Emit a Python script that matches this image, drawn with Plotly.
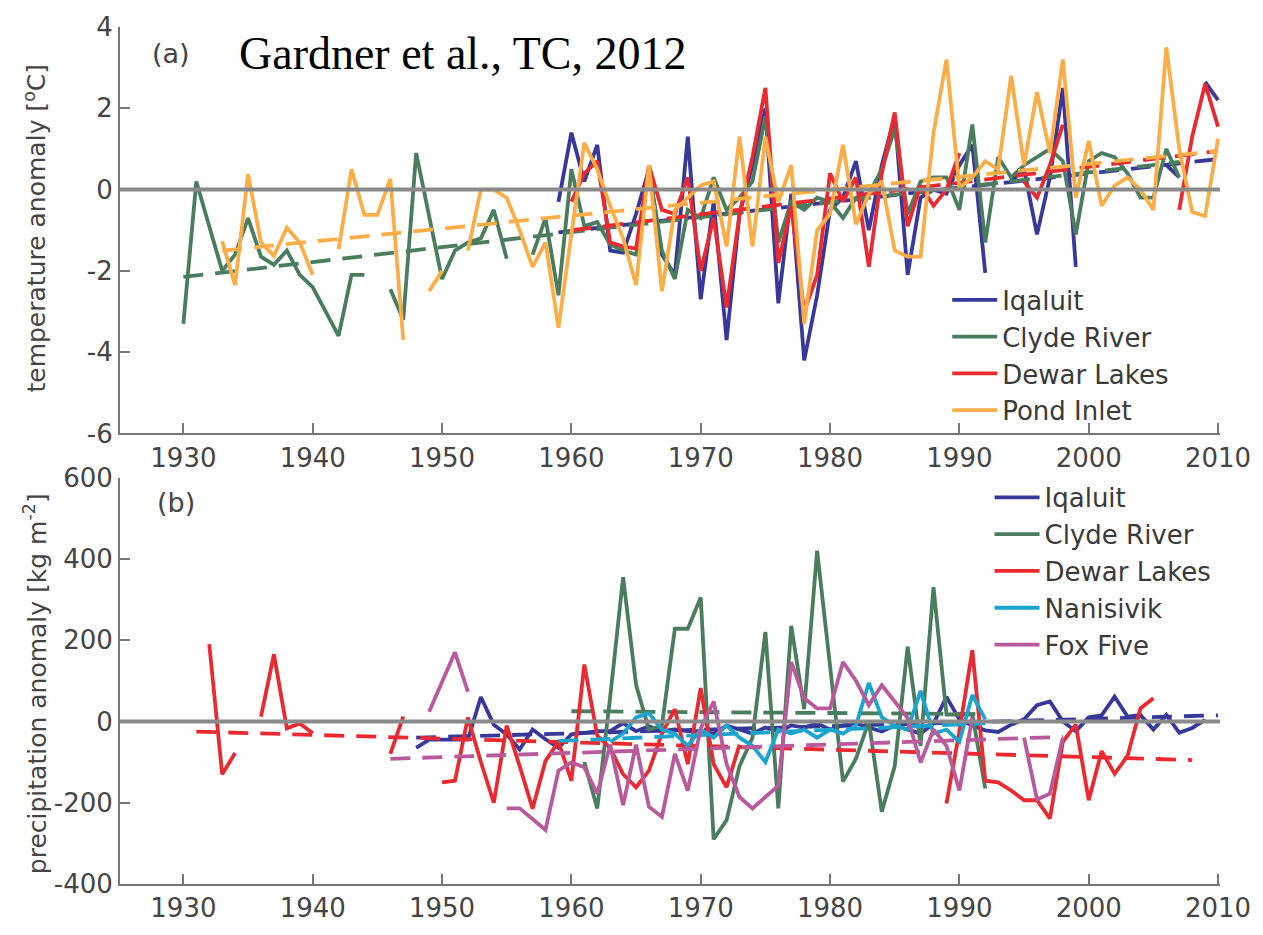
import plotly.graph_objects as go

# ---------------- data ----------------
# (a) temperature anomaly [degC], one value per year from the start year
temp_iqaluit_start = 1959
temp_iqaluit = [-0.3, 1.4, 0.2, 1.1, -1.5, -1.55, -0.6, 0.5, -1.6, -2.1,
                1.3, -2.7, -0.3, -3.7, -0.6, 0.6, 2.0, -2.8, -0.1, -4.2,
                -2.6, -0.5, -0.2, 0.7, -1.0, 0.6, 1.8, -2.1, -0.2, 0.0,
                -0.1, 0.6, 1.1, -2.05, None, 0.2, 0.5, -1.1, 0.3, 2.5,
                -1.9, None, None, None, None, None, None, 0.6, 0.3, None,
                2.65, 2.2]

temp_clyde_start = 1930
temp_clyde = [-3.3, 0.2, -0.9, -2.0, -1.6, -0.7, -1.65, -1.85, -1.5, -2.1,
              -2.4, -3.0, -3.6, -2.1, -2.1, None, -2.45, -3.2, 0.9, -0.65,
              -2.2, -1.5, -1.3, -1.2, -0.5, -1.7, None, -1.6, -0.7, -2.6,
              0.5, -0.9, -0.8, -1.35, -1.5, -1.6, 0.5, -1.5, -2.2, -0.5,
              -0.7, 0.3, -0.5, -0.2, 0.2, 1.8, -1.3, -0.3, -0.5, -0.2,
              -0.3, -0.7, -0.2, -0.1, 0.5, 1.5, -0.6, 0.2, 0.3, 0.3,
              -0.5, 1.6, -1.3, 0.8, 0.3, 0.6, 0.8, 1.0, 0.7, -1.1,
              0.7, 0.9, 0.8, 0.4, -0.2, -0.2, 1.0, 0.3]

temp_dewar_start = 1960
temp_dewar = [-0.3, 0.4, 0.7, -1.3, -1.4, -1.45, 0.6, -0.5, -0.6, 0.3,
              -2.0, -0.7, -2.9, -0.6, 0.8, 2.5, -1.8, -0.4, -3.0, -2.1,
              0.4, -0.3, 0.3, -1.9, 0.4, 1.9, -0.9, 0.1, -0.4, 0.0,
              0.9, None, None, None, None, 0.2, -0.2, 0.6, 1.6, None,
              None, None, None, None, None, None, None, -0.5, 1.3, 2.6,
              1.55]

temp_pond_start = 1933
temp_pond = [-1.27, -2.35, 0.38, -1.3, -1.63, -0.94, -1.3,
             -2.1, None, -1.47, 0.5, -0.62, -0.62, 0.26, -3.7, None, -2.5,
             -2.0, None, -1.5, 0.0, 0.0, -0.2, -1.0, -1.9, -1.3, -3.4,
             -1.1, 1.15, 0.5, -0.4, -1.2, -2.35, 0.6, -2.5, -0.5, -0.2,
             0.1, 0.2, -1.4, 1.3, -1.4, 1.3, -0.3, 0.6, -3.3, -1.0,
             -0.6, 1.1, -0.85, -0.1, 0.2, -1.5, -1.65, -1.65, 1.4, 3.2,
             0.05, 0.3, 0.7, 0.5, 2.8, 0.6, 2.4, 0.9, 3.2, -0.2,
             1.2, -0.4, 0.1, 0.3, 0.0, -0.5, 3.5, 1.0, -0.55, -0.65,
             1.25]

# linear trends (start, end)
trend_temp_iqaluit_x = [1959, 2010]
trend_temp_iqaluit_y = [-1.05, 0.75]
trend_temp_clyde_x = [1930, 2007]
trend_temp_clyde_y = [-2.15, 0.68]
trend_temp_dewar_x = [1960, 2010]
trend_temp_dewar_y = [-1.0, 0.95]
trend_temp_pond_x = [1933, 2010]
trend_temp_pond_y = [-1.5, 0.95]

# (b) precipitation anomaly [kg m-2]
precip_iqaluit_start = 1948
precip_iqaluit = [-65, -45,
                  -45, -45, -45, 60, -8, -32, -69, -20, -44, -65,
                  -32, -28, -24, -24, -4, -24, -12, -24, -20, -24,
                  -24, -30, -10, -20, -30, -15, -25, -10, -15, -5,
                  -20, -10, -5, -15, -25, -10, -20, -30, -5, 60,
                  5, -10, -22, -26, -8, 5, 40, 49, 0, -24,
                  10, 15, 61, 12, 16, -20, 16, -28, -16, 4]

precip_clyde_start = 1961
precip_clyde = [-100, -214, 60, 355, 90, -20, -10, 228, 228,
                305, -290, -243, -110, -40, 220, -214, 235, 30, 420,
                130, -148, -92, 0, -222, -110, 184, -60, 330, 17,
                17, 17, -165]

precip_dewar_start = 1932
precip_dewar = [190, -130, -78, None, 12, 165, -17, -5,
                -29, None, None, None, None, None, -80, 12, None, None,
                -150, -146, 10, -100, -200, -10, -110, -215, -97, -50,
                -146, 140, -35, -65, -130, -162, -121, -30, 30, -105,
                82, -105, -162, -57, None, None, None, None, None, None,
                None, None, None, None, None, None, None, None, None, -202,
                -24, 175, -146, -150, -170, -194, -194, -239, -50, -8,
                -194, -73, -129, -85, 32, 57]

precip_nanisivik_start = 1963
precip_nanisivik = [-50, -30, 10, 20, -20, -30, -60,
                    -20, -40, -10, -40, -60, -100, -20, -30, -20, -40,
                    -20, -30, -10, 95, 10, -10, -20, 75, -30, -20,
                    -50, 65, 5]

precip_fox_start = 1949
precip_fox = [24,
              100, 170, 73, None, None, -214, -214, -240, -267, -121,
              -101, -113, -178, -57, -206, -57, -210, -235, -80, -170,
              -17, 49, -105, -186, -214, -186, -158, 146, 57, 32,
              32, 146, 100, 40, 89, 49, 8, -101, -20, -60,
              -170, 10, None, None, None, -40, -192, -178, -40]

trend_precip_iqaluit_x = [1948, 2010]
trend_precip_iqaluit_y = [-40, 15]
trend_precip_clyde_x = [1960, 1992]
trend_precip_clyde_y = [25, 18]
trend_precip_dewar_x = [1931, 2008]
trend_precip_dewar_y = [-25, -95]
trend_precip_nanisivik_x = [1959, 1992]
trend_precip_nanisivik_y = [-48, -5]
trend_precip_fox_x = [1946, 1998]
trend_precip_fox_y = [-92, -38]

x_ticks = [1930, 1940, 1950, 1960, 1970, 1980, 1990, 2000, 2010]
temp_ticks = [-6, -4, -2, 0, 2, 4]
precip_ticks = [-400, -200, 0, 200, 400, 600]

# ---------------- styling ----------------
C_IQ = "#38389a"
C_CL = "#4a7c5e"
C_DW = "#ea2a30"
C_PI = "#fbae48"
C_NA = "#1aa5cf"
C_FF = "#b85a9c"
LW = 3.8
DASH = "20px,12px"
FONT = "DejaVu Sans"
TXT = "#444444"
AX = "#777777"


def yrs(start, vals):
    return list(range(start, start + len(vals)))


fig = go.Figure()


def add_series(name, start, vals, color, tx, ty, xa, ya, legend):
    fig.add_trace(go.Scatter(x=yrs(start, vals), y=vals, mode="lines", name=name,
                             line=dict(color=color, width=LW), connectgaps=False,
                             xaxis=xa, yaxis=ya, legend=legend, hoverinfo="skip"))
    fig.add_trace(go.Scatter(x=tx, y=ty, mode="lines", showlegend=False,
                             line=dict(color=color, width=LW, dash=DASH),
                             xaxis=xa, yaxis=ya, hoverinfo="skip"))


add_series("Iqaluit", temp_iqaluit_start, temp_iqaluit, C_IQ,
           trend_temp_iqaluit_x, trend_temp_iqaluit_y, "x", "y", "legend")
add_series("Clyde River", temp_clyde_start, temp_clyde, C_CL,
           trend_temp_clyde_x, trend_temp_clyde_y, "x", "y", "legend")
add_series("Dewar Lakes", temp_dewar_start, temp_dewar, C_DW,
           trend_temp_dewar_x, trend_temp_dewar_y, "x", "y", "legend")
add_series("Pond Inlet", temp_pond_start, temp_pond, C_PI,
           trend_temp_pond_x, trend_temp_pond_y, "x", "y", "legend")

add_series("Iqaluit", precip_iqaluit_start, precip_iqaluit, C_IQ,
           trend_precip_iqaluit_x, trend_precip_iqaluit_y, "x2", "y2", "legend2")
add_series("Clyde River", precip_clyde_start, precip_clyde, C_CL,
           trend_precip_clyde_x, trend_precip_clyde_y, "x2", "y2", "legend2")
add_series("Dewar Lakes", precip_dewar_start, precip_dewar, C_DW,
           trend_precip_dewar_x, trend_precip_dewar_y, "x2", "y2", "legend2")
add_series("Nanisivik", precip_nanisivik_start, precip_nanisivik, C_NA,
           trend_precip_nanisivik_x, trend_precip_nanisivik_y, "x2", "y2", "legend2")
add_series("Fox Five", precip_fox_start, precip_fox, C_FF,
           trend_precip_fox_x, trend_precip_fox_y, "x2", "y2", "legend2")

xax = dict(range=[1925.1, 2010.15], tickvals=x_ticks, ticks="inside", ticklen=10,
           tickwidth=2, tickcolor=AX, showline=True, linecolor=AX, linewidth=2,
           showgrid=False, zeroline=False, tickfont=dict(family=FONT, size=26, color=TXT))
yax = dict(ticks="inside", ticklen=10, tickwidth=2, tickcolor=AX, showline=True,
           linecolor=AX, linewidth=2, showgrid=False, zeroline=False,
           tickfont=dict(family=FONT, size=26, color=TXT))

ann = dict(xref="paper", yref="paper", showarrow=False, xanchor="center", yanchor="middle")

fig.update_layout(
    width=1263, height=935,
    margin=dict(l=120, r=33, t=20, b=40),
    paper_bgcolor="white", plot_bgcolor="white",
    xaxis=dict(xax, domain=[0, 1], anchor="y"),
    yaxis=dict(yax, domain=[0.5257, 1], range=[-6, 4], tickvals=temp_ticks,
               ticktext=[str(v) for v in temp_ticks], anchor="x"),
    xaxis2=dict(xax, domain=[0, 1], anchor="y2"),
    yaxis2=dict(yax, domain=[0, 0.4743], range=[-400, 600], tickvals=precip_ticks,
                ticktext=[str(v) for v in precip_ticks], anchor="x2"),
    legend=dict(x=0.752, y=0.709, xanchor="left", yanchor="top",
                font=dict(family=FONT, size=26, color="#3a3a3a"), bgcolor="rgba(0,0,0,0)",
                itemwidth=45, tracegroupgap=0),
    legend2=dict(x=0.7905, y=0.4785, xanchor="left", yanchor="top",
                 font=dict(family=FONT, size=26, color="#3a3a3a"), bgcolor="rgba(0,0,0,0)",
                 itemwidth=45, tracegroupgap=0),
    shapes=[
        dict(type="line", xref="x domain", x0=0, x1=1, yref="y", y0=0, y1=0,
             line=dict(color="#8a8a8a", width=4), layer="above"),
        dict(type="line", xref="x2 domain", x0=0, x1=1, yref="y2", y0=0, y1=0,
             line=dict(color="#8a8a8a", width=4), layer="above"),
    ],
    annotations=[
        dict(ann, text="(a)", x=0.0468, y=0.969,
             font=dict(family=FONT, size=27, color=TXT)),
        dict(ann, text="(b)", x=0.051, y=0.4457,
             font=dict(family=FONT, size=27, color=TXT)),
        dict(ann, text="Gardner et al., TC, 2012", x=0.3117, y=0.969,
             font=dict(family="Liberation Serif", size=46, color="black")),
        dict(ann, text="temperature anomaly [<sup>o</sup>C]", x=-0.0766, y=0.7657,
             textangle=-90, font=dict(family=FONT, size=25, color=TXT)),
        dict(ann, text="precipitation anomaly [kg m<sup>-2</sup>]", x=-0.0766, y=0.234,
             textangle=-90, font=dict(family=FONT, size=25, color=TXT)),
    ],
)

fig.write_html("out.html")
